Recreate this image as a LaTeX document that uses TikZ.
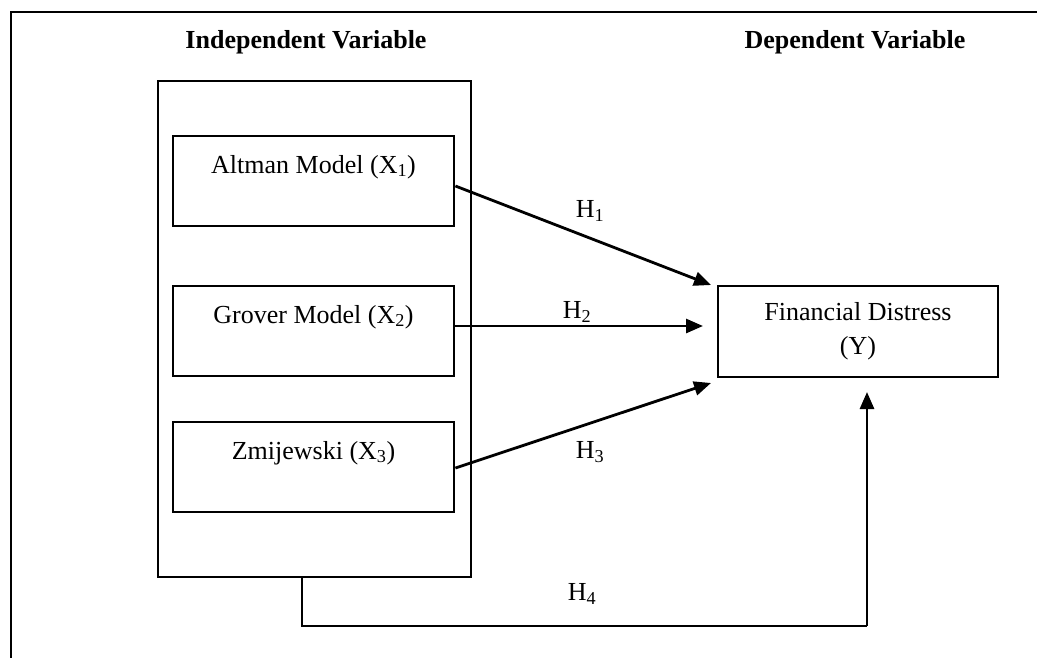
\documentclass[tikz,border=0pt]{standalone}
\usepackage{fontspec}
\setmainfont{Liberation Serif}
\usetikzlibrary{arrows.meta}
\begin{document}
\begin{tikzpicture}[x=1pt,y=-1pt,
  box/.style={draw,line width=2.8pt,minimum width=281pt,minimum height=90pt,inner sep=0pt},
  txt/.style={font=\fontsize{26}{34}\selectfont,inner sep=0pt},
  head/.style={font=\fontsize{26}{30}\selectfont\bfseries,inner sep=0pt},
  lab/.style={font=\fontsize{26}{30}\selectfont,inner sep=0pt},
  arr/.style={line width=2.8pt,-{Triangle[length=17pt,width=14pt]}},
]
\useasboundingbox (0,0) rectangle (1037,657);
\clip (0,0) rectangle (1037,657);
% outer frame
\draw[line width=2.8pt] (11,12) rectangle (1045,665);
% headers
\node[head] (hind) at (306,42) {Independent Variable};
\node[head] (hdep) at (855,42) {Dependent Variable};
% big box
\node[draw,line width=2.8pt,minimum width=313pt,minimum height=496pt,inner sep=0pt] (iv) at (314.5,329) {};
% inner boxes
\node[box] (alt) at (313.5,181) {};
\node[txt] (altT) at (313.5,167) {Altman Model (X\textsubscript{1})};
\node[box] (gro) at (313.5,331) {};
\node[txt] (groT) at (313.5,317) {Grover Model (X\textsubscript{2})};
\node[box] (zmi) at (313.5,467) {};
\node[txt] (zmiT) at (313.5,453) {Zmijewski (X\textsubscript{3})};
% dependent box
\node[draw,line width=2.8pt,minimum width=280pt,minimum height=91pt,inner sep=0pt,
      txt,align=center] (fd) at (858,331.5) {Financial Distress\\(Y)};
% coordinates for arrow ends
\coordinate (e1) at (711,285);
\coordinate (e2) at (703,326);
\coordinate (e3) at (711,383);
\coordinate (h4a) at (302,626);
\coordinate (h4b) at (867,626);
\coordinate (e4) at (867,392);
% arrows
\draw[arr] (alt.east |- 0,186) -- (e1);
\draw[arr] (gro.east |- 0,326) -- (e2);
\draw[arr] (zmi.east |- 0,468) -- (e3);
\draw[line width=2pt] (iv.south -| h4a) -- (h4a) -- (h4b);
\draw[arr] (h4b) -- (e4);
% labels
\node[lab] (l1) at (590,211) {H\textsubscript{1}};
\node[lab] (l2) at (577,312) {H\textsubscript{2}};
\node[lab] (l3) at (590,452) {H\textsubscript{3}};
\node[lab] (l4) at (582,594) {H\textsubscript{4}};
\end{tikzpicture}
\end{document}
